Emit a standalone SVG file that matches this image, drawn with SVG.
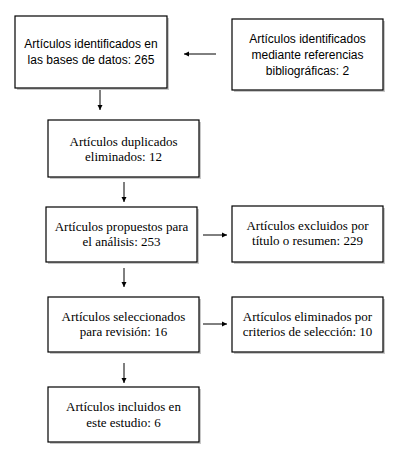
<svg xmlns="http://www.w3.org/2000/svg" width="415" height="459" viewBox="0 0 415 459">
<style>
.box{fill:#fff;stroke:#000;stroke-width:1.2}
.sh{fill:#c8c8c8}
.sans{font-family:"Liberation Sans",Arial,sans-serif;font-size:12px;fill:#000;text-anchor:middle}
.serif{font-family:"Liberation Serif","Times New Roman",serif;font-size:13px;fill:#000;text-anchor:middle}
.conn{stroke:#000;stroke-width:1;fill:none;marker-end:url(#ah)}
</style>
<defs>
<marker id="ah" markerWidth="6" markerHeight="6" refX="5" refY="3" orient="auto" markerUnits="userSpaceOnUse">
<path d="M0,0.5 L5,3 L0,5.5 Z" fill="#000"/>
</marker>
</defs>
<rect width="415" height="459" fill="#fff"/>
<g id="n1">
<rect class="sh" x="17" y="18" width="152" height="72"/>
<rect class="box" x="15" y="16" width="152" height="72"/>
<text class="sans" x="91" y="48">Artículos identificados en</text>
<text class="sans" x="91" y="64">las bases de datos: 265</text>
</g>
<g id="n2">
<rect class="sh" x="234" y="21" width="151" height="71"/>
<rect class="box" x="232" y="19" width="151" height="71"/>
<text class="sans" x="307.5" y="43">Artículos identificados</text>
<text class="sans" x="307.5" y="59">mediante referencias</text>
<text class="sans" x="307.5" y="75">bibliográficas: 2</text>
</g>
<g id="n3">
<rect class="sh" x="50" y="122" width="151" height="57"/>
<rect class="box" x="48" y="120" width="151" height="57"/>
<text class="serif" x="123.5" y="146">Artículos duplicados</text>
<text class="serif" x="123.5" y="161">eliminados: 12</text>
</g>
<g id="n4">
<rect class="sh" x="48" y="209" width="151" height="55"/>
<rect class="box" x="46" y="207" width="151" height="55"/>
<text class="serif" x="121.5" y="231">Artículos propuestos para</text>
<text class="serif" x="121.5" y="246">el análisis: 253</text>
</g>
<g id="n5">
<rect class="sh" x="234" y="208" width="151" height="56"/>
<rect class="box" x="232" y="206" width="151" height="56"/>
<text class="serif" x="307.5" y="230">Artículos excluidos por</text>
<text class="serif" x="307.5" y="245">título o resumen: 229</text>
</g>
<g id="n6">
<rect class="sh" x="50" y="299" width="151" height="55"/>
<rect class="box" x="48" y="297" width="151" height="55"/>
<text class="serif" x="123.5" y="321">Artículos seleccionados</text>
<text class="serif" x="123.5" y="336">para revisión: 16</text>
</g>
<g id="n7">
<rect class="sh" x="234" y="299" width="151" height="55"/>
<rect class="box" x="232" y="297" width="151" height="55"/>
<text class="serif" x="307.5" y="321">Artículos eliminados por</text>
<text class="serif" x="307.5" y="336">criterios de selección: 10</text>
</g>
<g id="n8">
<rect class="sh" x="50" y="389" width="151" height="55"/>
<rect class="box" x="48" y="387" width="151" height="55"/>
<text class="serif" x="123.5" y="411">Artículos incluidos en</text>
<text class="serif" x="123.5" y="427">este estudio: 6</text>
</g>
<g id="connectors">
<line class="conn" x1="216" y1="54" x2="184" y2="54"/>
<line class="conn" x1="100" y1="90" x2="100" y2="110"/>
<line class="conn" x1="124" y1="182" x2="124" y2="202"/>
<line class="conn" x1="203" y1="235" x2="227" y2="235"/>
<line class="conn" x1="124" y1="268" x2="124" y2="287"/>
<line class="conn" x1="203" y1="324" x2="227" y2="324"/>
<line class="conn" x1="124" y1="363" x2="124" y2="383"/>
</g>
</svg>
